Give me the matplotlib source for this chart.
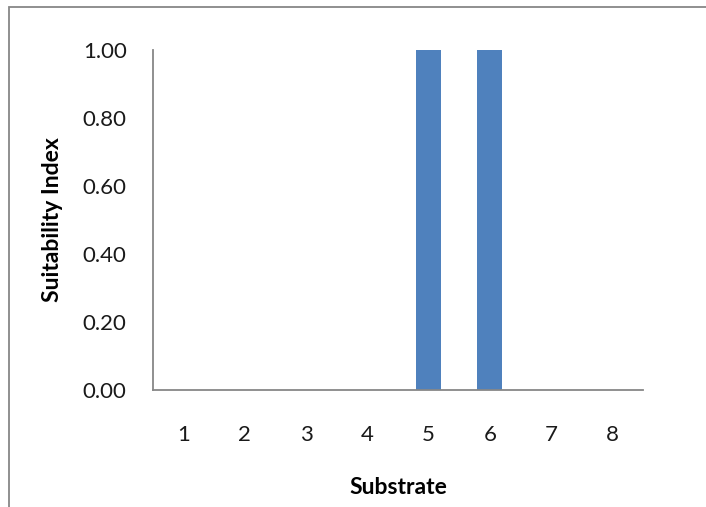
import matplotlib.pyplot as plt
from matplotlib.patches import Rectangle

substrates = [1, 2, 3, 4, 5, 6, 7, 8]
suitability = [0, 0, 0, 0, 1.0, 1.0, 0, 0]
yticks = [0.0, 0.2, 0.4, 0.6, 0.8, 1.0]

plt.rcParams['font.family'] = ['Lato', 'DejaVu Sans']

W, H = 706, 507
fig = plt.figure(figsize=(W / 100, H / 100), dpi=100)

# outer chart frame (runs off the right and bottom edge)
fig.patches.append(Rectangle((9 / W, -0.1), 1.2, 1 - 7 / H + 0.1,
                             transform=fig.transFigure, fill=False,
                             edgecolor='#878787', linewidth=1.3))

ax = fig.add_axes([153 / W, 1 - 390 / H, (643 - 153) / W, (390 - 50) / H])
ax.bar(substrates, suitability, width=0.41, color='#4F81BD')

ax.set_xlim(0.5, 8.5)
ax.set_ylim(0, 1.0)
ax.set_xticks(substrates)
ax.set_yticks(yticks)
ax.set_yticklabels(['%.2f' % v for v in yticks])
ax.tick_params(length=0, labelsize=16, colors='#1a1a1a')
ax.tick_params(axis='x', pad=25)
ax.tick_params(axis='y', pad=19)

for s in ['top', 'right']:
    ax.spines[s].set_visible(False)
for s in ['left', 'bottom']:
    ax.spines[s].set_color('#878787')
    ax.spines[s].set_linewidth(1.3)

ax.set_xlabel('Substrate', fontsize=16.5, fontweight='bold', labelpad=23)
ax.set_ylabel('Suitability Index', fontsize=16.5, fontweight='bold', labelpad=14)

fig.savefig('out.png', dpi=100)
